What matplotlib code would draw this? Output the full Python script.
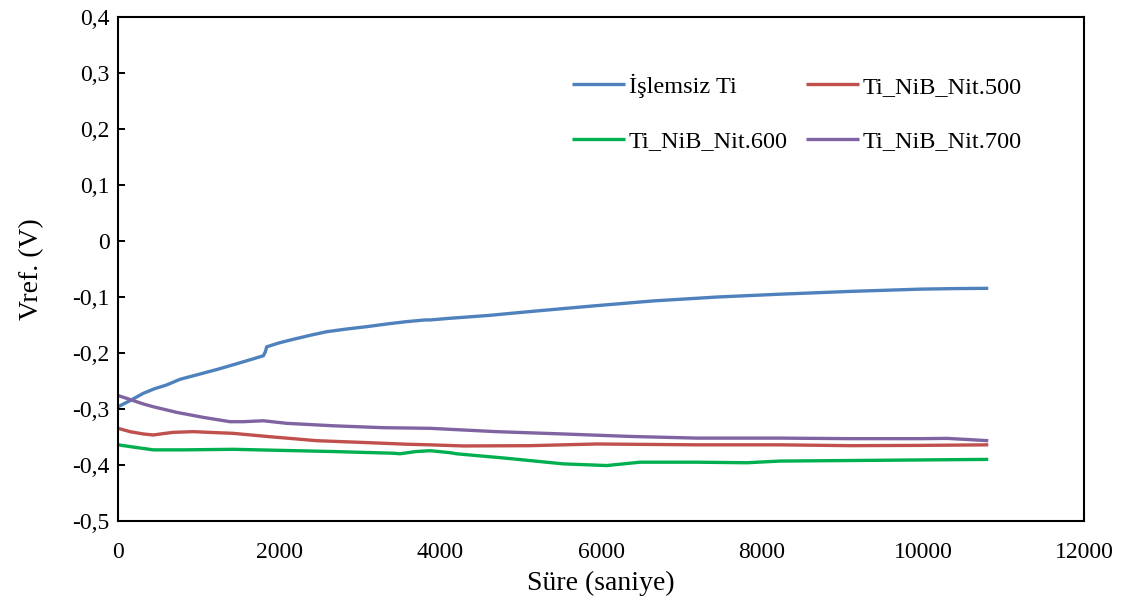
import matplotlib
matplotlib.use("Agg")
import matplotlib.pyplot as plt
from matplotlib.ticker import FuncFormatter

plt.rcParams['font.family'] = ['Liberation Serif', 'DejaVu Serif']

# Open-circuit potential vs time (s)
t_ti = [0, 150, 314, 450, 605, 770, 1019, 1240, 1432, 1620, 1805, 1830, 1847, 2000, 2178,
        2400, 2592, 2850, 3089, 3350, 3586, 3814, 3876, 4124, 4600, 5118, 5900, 6650,
        7450, 8224, 9100, 9963, 10400, 10811]
v_ti = [-0.296, -0.285, -0.272, -0.264, -0.257, -0.247, -0.2375, -0.229, -0.221, -0.213,
        -0.205, -0.198, -0.189, -0.182, -0.1755, -0.168, -0.162, -0.157, -0.153, -0.148,
        -0.144, -0.141, -0.141, -0.138, -0.133, -0.126, -0.116, -0.107, -0.100, -0.095,
        -0.090, -0.086, -0.085, -0.0845]

t_500 = [0, 149, 314, 438, 560, 687, 935, 1226, 1432, 1847, 2468, 3089, 3600, 3876,
         4290, 5118, 5946, 7189, 8224, 9100, 9963, 10811]
v_500 = [-0.3345, -0.3405, -0.3446, -0.3464, -0.344, -0.3417, -0.3405, -0.3423, -0.3435,
         -0.349, -0.3566, -0.360, -0.363, -0.364, -0.366, -0.3655, -0.3625, -0.364,
         -0.364, -0.3655, -0.365, -0.364]

t_600 = [0, 190, 438, 811, 1432, 2053, 2675, 3420, 3503, 3700, 3876, 4124, 4207, 4828,
         5532, 6071, 6485, 7189, 7810, 8224, 9100, 9963, 10811]
v_600 = [-0.364, -0.368, -0.373, -0.373, -0.372, -0.374, -0.376, -0.379, -0.380, -0.376,
         -0.3745, -0.378, -0.380, -0.388, -0.398, -0.401, -0.395, -0.395, -0.396, -0.393,
         -0.392, -0.391, -0.390]

t_700 = [0, 107, 314, 438, 728, 1060, 1391, 1557, 1805, 2095, 2675, 3296, 3876, 4704,
         5532, 6360, 7189, 8224, 9100, 9963, 10300, 10811]
v_700 = [-0.276, -0.281, -0.291, -0.296, -0.306, -0.315, -0.3227, -0.3227, -0.321,
         -0.3256, -0.330, -0.3334, -0.3345, -0.3405, -0.3446, -0.349, -0.352, -0.352,
         -0.353, -0.353, -0.3525, -0.3566]

labels = ["İşlemsiz Ti", "Ti_NiB_Nit.500", "Ti_NiB_Nit.600", "Ti_NiB_Nit.700"]
colors = ["#4F81BD", "#C0504D", "#00B050", "#8064A2"]

x_ticks = [0, 2000, 4000, 6000, 8000, 10000, 12000]
y_ticks = [-0.5, -0.4, -0.3, -0.2, -0.1, 0.0, 0.1, 0.2, 0.3, 0.4]

fig = plt.figure(figsize=(11.36, 6.07), dpi=100)
ax = fig.add_axes([0.1039, 0.1417, 0.8503, 0.8303])

series = [(t_ti, v_ti), (t_500, v_500), (t_600, v_600), (t_700, v_700)]
handles = []
for (t, v), lab, c in zip(series, labels, colors):
    h, = ax.plot(t, v, color=c, lw=2.4, label=lab, solid_capstyle='butt')
    handles.append(h)

ax.set_xlim(0, 12000)
ax.set_ylim(-0.5, 0.4)
ax.set_xticks(x_ticks)
ax.set_yticks(y_ticks)


def comma_fmt(val, pos):
    if abs(val) < 1e-9:
        return "0"
    return ("%.1f" % val).replace(".", ",")


ax.yaxis.set_major_formatter(FuncFormatter(comma_fmt))
ax.xaxis.set_major_formatter(FuncFormatter(lambda v, p: "%d" % v))
ax.tick_params(axis='x', length=0, labelsize=17, pad=15)
ax.tick_params(axis='y', direction='in', length=5, width=1.4, labelsize=17, pad=6)

for s in ax.spines.values():
    s.set_linewidth(1.5)
    s.set_color("black")

ax.set_xlabel("Süre (saniye)", fontsize=20, labelpad=6)
ax.set_ylabel("Vref. (V)", fontsize=20, labelpad=20)

# legend: row 1 = untreated, 500 ; row 2 = 600, 700
order = [0, 2, 1, 3]
ax.legend([handles[i] for i in order], [labels[i] for i in order], ncol=2,
          frameon=False, fontsize=17.5, handlelength=2.18, handletextpad=0.165,
          labelspacing=1.34, columnspacing=0.74, loc='upper left',
          bbox_to_anchor=(0.4596, 0.907), borderaxespad=0)

fig.savefig("out.png", dpi=100)
